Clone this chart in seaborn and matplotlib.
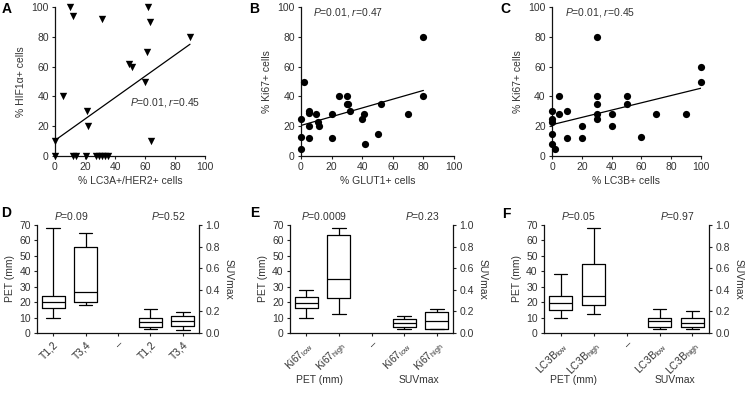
import matplotlib
matplotlib.use('Agg')
import matplotlib.pyplot as plt
import seaborn as sns
import pandas as pd
import numpy as np

# scatter panels
a_x = [10, 12, 31, 62, 63, 90, 61, 49, 51, 60, 5, 21, 22, 0, 64,
       0, 12, 14, 20.5, 27.5, 29.5, 31.5, 33.5, 35]
a_y = [100, 94, 92, 100, 90, 80, 70, 62, 60, 50, 40, 30, 20, 10, 10,
       0, 0, 0, 0, 0, 0, 0, 0, 0]
a_fit_x = [0, 90]
a_fit_y = [10.5, 75]

b_x = [0, 0, 0, 2, 5, 5, 5, 5, 10, 11, 12, 20, 20, 25, 30, 30, 31, 32, 40, 41, 42, 50, 52, 70, 80, 80]
b_y = [25, 13, 5, 50, 30, 29, 20, 12, 28, 23, 20, 28, 12, 40, 40, 35, 35, 30, 25, 28, 8, 15, 35, 28, 80, 40]
b_fit_x = [0, 80]
b_fit_y = [20.5, 44]

c_x = [0, 0, 0, 0, 0, 2, 5, 5, 10, 10, 20, 20, 30, 30, 30, 30, 30, 40, 40, 50, 50, 60, 70, 90, 100, 100]
c_y = [30, 25, 23, 15, 8, 5, 40, 28, 30, 12, 20, 12, 80, 40, 35, 28, 25, 28, 20, 40, 35, 13, 28, 28, 60, 50]
c_fit_x = [0, 100]
c_fit_y = [21, 45.5]

# box panels: [min, q1, median, q3, max]
d_labels = ["T1,2", "T3,4", "\u2013", "T1,2", "T3,4"]
d_pet_lo = [10, 16, 20, 24, 68]
d_pet_hi = [18, 20, 26.5, 55.5, 65]
d_suv_lo = [0.034, 0.056, 0.103, 0.137, 0.218]
d_suv_hi = [0.031, 0.062, 0.109, 0.153, 0.196]
d_pvals = ["$\\mathit{P}$=0.09", "$\\mathit{P}$=0.52"]

e_labels = ["Ki67$_{low}$", "Ki67$_{high}$", "\u2013", "Ki67$_{low}$", "Ki67$_{high}$"]
e_pet_lo = [10, 16.4, 19.6, 23.1, 28]
e_pet_hi = [12, 22.7, 35.1, 63.2, 68]
e_suv_lo = [0.034, 0.053, 0.097, 0.128, 0.162]
e_suv_hi = [0.034, 0.040, 0.112, 0.193, 0.218]
e_pvals = ["$\\mathit{P}$=0.0009", "$\\mathit{P}$=0.23"]

f_labels = ["LC3B$_{low}$", "LC3B$_{high}$", "\u2013", "LC3B$_{low}$", "LC3B$_{high}$"]
f_pet_lo = [10, 14.8, 19.6, 23.8, 38]
f_pet_hi = [12, 17.9, 24, 44.9, 68]
f_suv_lo = [0.037, 0.053, 0.109, 0.14, 0.221]
f_suv_hi = [0.04, 0.059, 0.097, 0.143, 0.2]
f_pvals = ["$\\mathit{P}$=0.05", "$\\mathit{P}$=0.97"]

sns.set_style('ticks')
plt.rcParams['font.family'] = ['Liberation Sans', 'DejaVu Sans']
plt.rcParams.update({
    'font.size': 7.5,
    'mathtext.fontset': 'custom',
    'mathtext.rm': 'Liberation Sans',
    'mathtext.it': 'Liberation Sans:italic',
    'mathtext.default': 'regular',
    'text.color': '#333333',
    'axes.labelcolor': '#333333',
    'xtick.color': '#222222',
    'ytick.color': '#222222',
    'xtick.labelcolor': '#333333',
    'ytick.labelcolor': '#333333',
    'axes.edgecolor': '#111111',
    'axes.linewidth': 0.9,
    'xtick.major.size': 2.5,
    'ytick.major.size': 2.5,
    'xtick.major.width': 0.8,
    'ytick.major.width': 0.8,
    'xtick.major.pad': 2,
    'ytick.major.pad': 2,
    'xtick.labelsize': 7.5,
    'ytick.labelsize': 7.5,
    'axes.labelsize': 7.5,
})

W, H = 747, 396
fig = plt.figure(figsize=(W / 100, H / 100), dpi=100)


def px_axes(l, r, t, b):
    return fig.add_axes([l / W, 1 - b / H, (r - l) / W, (b - t) / H])


def scatter_panel(ax, x, y, fx, fy, marker, size, xlabel, ylabel, note, note_xy):
    sns.scatterplot(x=x, y=y, marker=marker, color='black', s=size, linewidth=0,
                    clip_on=False, zorder=3, ax=ax)
    sns.lineplot(x=fx, y=fy, color='black', linewidth=0.9, ax=ax)
    ax.set_xlim(0, 100)
    ax.set_ylim(0, 100)
    ax.set_xticks(range(0, 101, 20))
    ax.set_yticks(range(0, 101, 20))
    ax.set_xlabel(xlabel, labelpad=3)
    ax.set_ylabel(ylabel, labelpad=4)
    ax.text(note_xy[0], note_xy[1], note, ha='left', va='center', fontsize=7.5)
    sns.despine(ax=ax)


def box_panel(ax, labels, pet_lo, pet_hi, suv_lo, suv_hi, pvals):
    keys = ['p1', 'p2', 'gap', 's1', 's2']
    pet_df = pd.DataFrame({'grp': ['p1'] * 5 + ['p2'] * 5, 'val': pet_lo + pet_hi})
    suv_df = pd.DataFrame({'grp': ['s1'] * 5 + ['s2'] * 5, 'val': suv_lo + suv_hi})
    kw = dict(order=keys, whis=(0, 100), width=0.7, fill=False, color='black',
              linewidth=0.9, fliersize=0, capwidths=0.42)
    sns.boxplot(data=pet_df, x='grp', y='val', ax=ax, **kw)
    ax2 = ax.twinx()
    sns.boxplot(data=suv_df, x='grp', y='val', ax=ax2, **kw)
    ax.set_xlim(-0.5, 4.5)
    ax.set_ylim(0, 70)
    ax.set_yticks(range(0, 71, 10))
    ax2.set_ylim(0, 1.0)
    ax2.set_yticks(np.arange(0, 1.01, 0.2))
    ax2.set_yticklabels([f"{v:.1f}" for v in np.arange(0, 1.01, 0.2)])
    ax.set_xticks(range(5))
    ax.set_xticklabels(labels, rotation=45, ha='right', rotation_mode='anchor')
    ax.set_xlabel('')
    ax2.set_xlabel('')
    ax.set_ylabel('PET (mm)', labelpad=3)
    ax2.set_ylabel('SUVmax', rotation=270, labelpad=10)
    for s in ['top', 'right']:
        ax.spines[s].set_visible(False)
    for s in ['top', 'left', 'bottom']:
        ax2.spines[s].set_visible(False)
    ax.text(0.55, 1.085, pvals[0], transform=ax.get_xaxis_transform(),
            ha='center', va='center')
    ax.text(3.55, 1.085, pvals[1], transform=ax.get_xaxis_transform(),
            ha='center', va='center')


ax_a = px_axes(55, 205, 7, 156)
scatter_panel(ax_a, a_x, a_y, a_fit_x, a_fit_y, 'v', 28,
              '% LC3A+/HER2+ cells', '% HIF1\u03b1+ cells',
              '$\\mathit{P}$=0.01, $\\mathit{r}$=0.45', (50, 36))

ax_b = px_axes(301, 454, 7, 156)
scatter_panel(ax_b, b_x, b_y, b_fit_x, b_fit_y, 'o', 27,
              '% GLUT1+ cells', '% Ki67+ cells',
              '$\\mathit{P}$=0.01, $\\mathit{r}$=0.47', (8, 96))

ax_c = px_axes(552, 701, 7, 156)
scatter_panel(ax_c, c_x, c_y, c_fit_x, c_fit_y, 'o', 27,
              '% LC3B+ cells', '% Ki67+ cells',
              '$\\mathit{P}$=0.01, $\\mathit{r}$=0.45', (8.5, 96))

ax_d = px_axes(37, 199, 225, 333)
box_panel(ax_d, d_labels, d_pet_lo, d_pet_hi, d_suv_lo, d_suv_hi, d_pvals)

ax_e = px_axes(290, 453, 225, 333)
box_panel(ax_e, e_labels, e_pet_lo, e_pet_hi, e_suv_lo, e_suv_hi, e_pvals)

ax_f = px_axes(544, 709, 225, 333)
box_panel(ax_f, f_labels, f_pet_lo, f_pet_hi, f_suv_lo, f_suv_hi, f_pvals)

# panel letters
for letter, x, y in [('A', 7, 9), ('B', 254, 9), ('C', 505, 9),
                     ('D', 6, 213), ('E', 255, 213), ('F', 506, 214)]:
    fig.text(x / W, 1 - y / H, letter, fontsize=10, fontweight='bold',
             color='black', ha='center', va='center')

# group captions under E and F
for txt, x in [('PET (mm)', 319), ('SUVmax', 419), ('PET (mm)', 574), ('SUVmax', 675)]:
    fig.text(x / W, 1 - 380 / H, txt, fontsize=7.5, ha='center', va='center')

fig.savefig('out.png', dpi=100)
